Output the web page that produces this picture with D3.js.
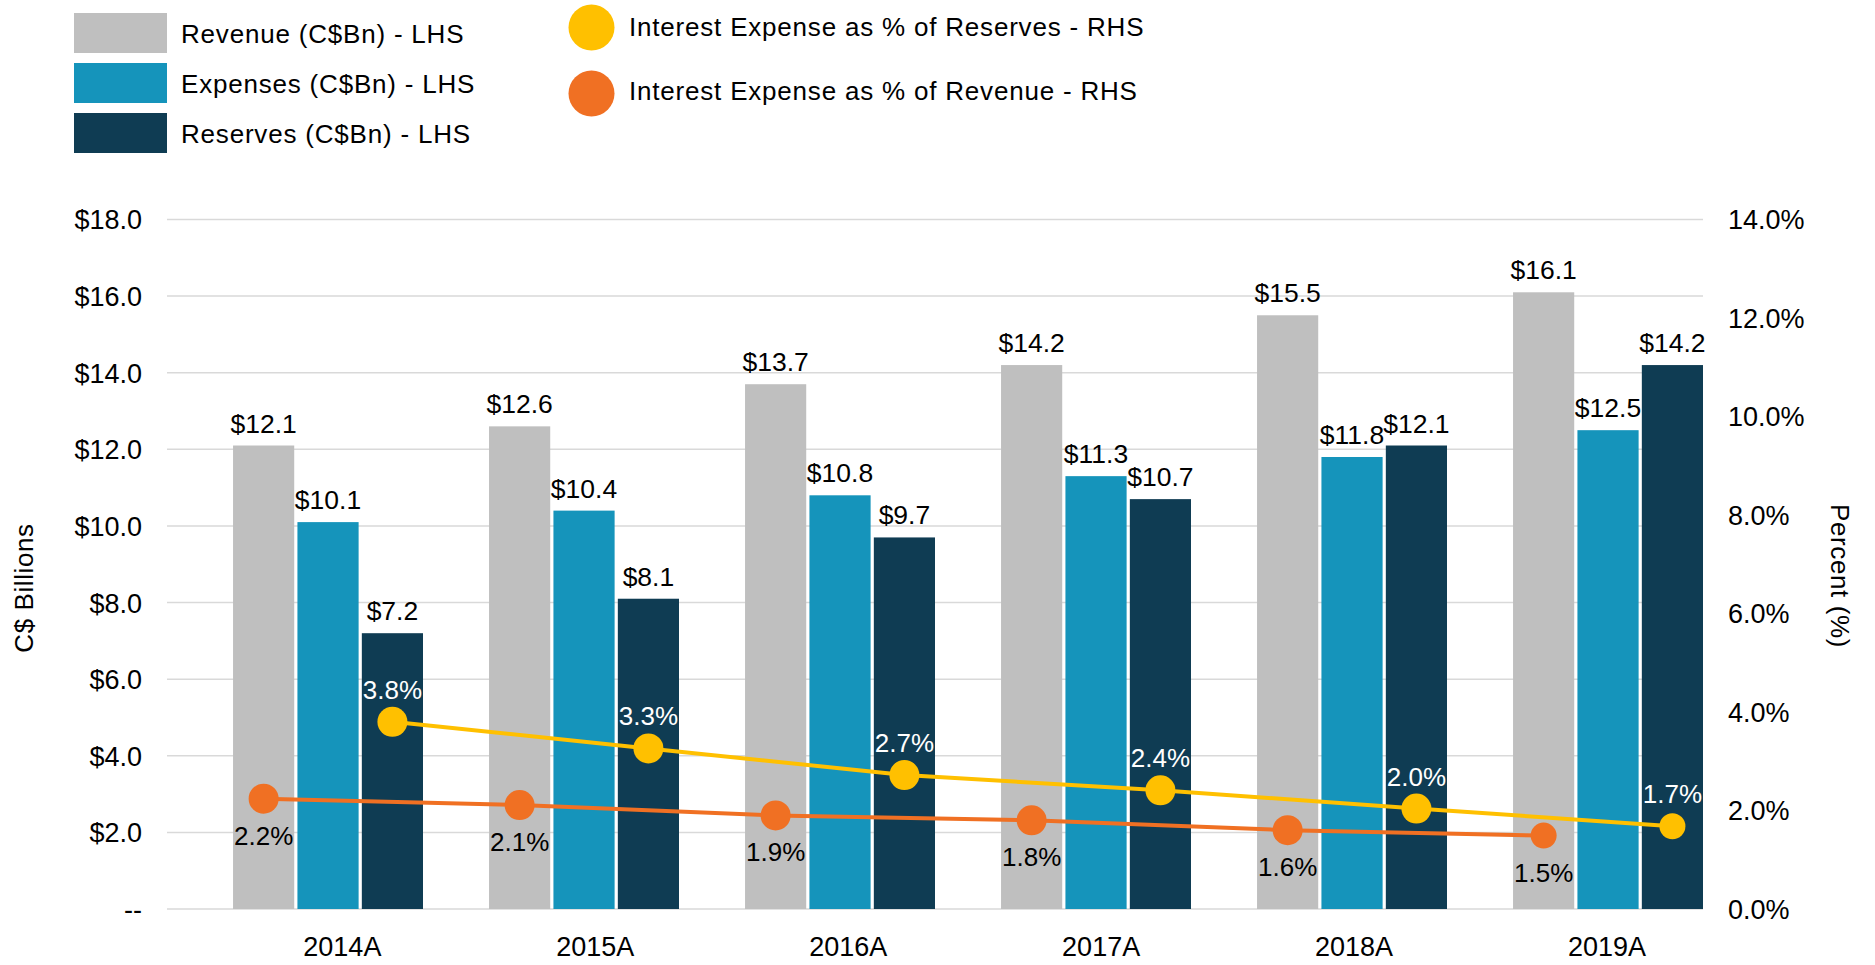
<!DOCTYPE html>
<html>
<head>
<meta charset="utf-8">
<script src="https://cdn.jsdelivr.net/npm/d3@7"></script>
<style>
  body { margin: 0; background: #fff; }
  text { font-family: "Liberation Sans", Arial, sans-serif; fill: #000; }
</style>
</head>
<body>
<div id="my_dataviz"></div>
<script>
// data
const years = ["2014A", "2015A", "2016A", "2017A", "2018A", "2019A"];
const revenue = [12.1, 12.6, 13.7, 14.2, 15.5, 16.1];
const expenses = [10.1, 10.4, 10.8, 11.3, 11.8, 12.5];
const reserves = [7.2, 8.1, 9.7, 10.7, 12.1, 14.2];
const pctReserves = [3.80, 3.26, 2.72, 2.41, 2.04, 1.68];
const pctRevenue = [2.24, 2.11, 1.90, 1.80, 1.60, 1.49];
const leftTicks = [0, 2, 4, 6, 8, 10, 12, 14, 16, 18];
const rightTicks = [0, 2, 4, 6, 8, 10, 12, 14];

const barSeries = [
  {key: "rev", name: "Revenue (C$Bn) - LHS", values: revenue, color: "#bfbfbf"},
  {key: "exp", name: "Expenses (C$Bn) - LHS", values: expenses, color: "#1594bb"},
  {key: "res", name: "Reserves (C$Bn) - LHS", values: reserves, color: "#0f3c53"}
];
const lineSeries = [
  {name: "Interest Expense as % of Reserves - RHS", values: pctReserves, color: "#ffc000", bar: "res", label: "#fff", dy: -23},
  {name: "Interest Expense as % of Revenue - RHS", values: pctRevenue, color: "#f07023", bar: "rev", label: "#000", dy: 46}
];

// dimensions
const W = 1875, H = 965;
const margin = {top: 219.5, right: 172, bottom: 56, left: 167};
const width = W - margin.left - margin.right,
  height = H - margin.top - margin.bottom;

const svg = d3.select("#my_dataviz")
.append("svg")
  .attr("width", W)
  .attr("height", H);

const g = svg.append("g")
  .attr("transform", `translate(${margin.left},${margin.top})`);

// scales
const x = d3.scaleBand()
  .domain(years)
  .range([0, width])
  .padding(0);
const bw = x.bandwidth();
const xs = d3.scaleBand()
  .domain(barSeries.map(d => d.key))
  .range([bw * 0.258, bw])
  .paddingInner(0.05);
const y = d3.scaleLinear().domain([0, 18]).range([height, 0]);
const y2 = d3.scaleLinear().domain([0, 14]).range([height, 0]);

// gridlines
g.append("g")
  .selectAll("line")
  .data(leftTicks)
  .join("line")
    .attr("x1", 0)
    .attr("x2", width)
    .attr("y1", d => y(d))
    .attr("y2", d => y(d))
    .attr("stroke", "#d9d9d9")
    .attr("stroke-width", 1.5);

// left axis
const leftAxis = g.append("g")
  .attr("transform", "translate(-25,0)")
  .call(d3.axisLeft(y).tickValues(leftTicks).tickSize(0)
    .tickFormat(d => d === 0 ? "--" : "$" + d.toFixed(1)));
leftAxis.select(".domain").remove();
leftAxis.selectAll("text")
  .attr("x", 0)
  .attr("dy", "0.35em")
  .style("font-size", "27px")
  .style("font-family", "Liberation Sans, Arial, sans-serif")
  .attr("fill", "#000");

// right axis
const rightAxis = g.append("g")
  .attr("transform", `translate(${width + 25},0)`)
  .call(d3.axisRight(y2).tickValues(rightTicks).tickSize(0)
    .tickFormat(d => d.toFixed(1) + "%"));
rightAxis.select(".domain").remove();
rightAxis.selectAll("text")
  .attr("x", 0)
  .attr("dy", "0.35em")
  .style("font-size", "27px")
  .style("font-family", "Liberation Sans, Arial, sans-serif")
  .attr("fill", "#000");

// x labels, drawn a bit right of the band centre like the original
const xl = d3.scalePoint()
  .domain(years)
  .range([bw * 0.685, width - bw * 0.375]);
g.append("g")
  .selectAll("text")
  .data(years)
  .join("text")
    .attr("x", d => xl(d))
    .attr("y", height + 47)
    .attr("text-anchor", "middle")
    .style("font-size", "27px")
    .text(d => d);

// bars
barSeries.forEach(s => {
  const bars = g.append("g");
  bars.selectAll("rect")
    .data(years)
    .join("rect")
      .attr("x", d => x(d) + xs(s.key))
      .attr("y", (d, i) => y(s.values[i]))
      .attr("width", xs.bandwidth())
      .attr("height", (d, i) => height - y(s.values[i]))
      .attr("fill", s.color);
  bars.selectAll("text")
    .data(years)
    .join("text")
      .attr("x", d => x(d) + xs(s.key) + xs.bandwidth() / 2)
      .attr("y", (d, i) => y(s.values[i]) - 13)
      .attr("text-anchor", "middle")
      .style("font-size", "26.5px")
      .text((d, i) => "$" + s.values[i].toFixed(1));
});

// lines with markers
lineSeries.forEach(s => {
  const px = d => x(d) + xs(s.bar) + xs.bandwidth() / 2;
  const line = d3.line()
    .x(d => px(d))
    .y((d, i) => y2(s.values[i]));
  g.append("path")
    .datum(years)
    .attr("d", line)
    .attr("fill", "none")
    .attr("stroke", s.color)
    .attr("stroke-width", 4);
  g.append("g")
    .selectAll("circle")
    .data(years)
    .join("circle")
      .attr("cx", d => px(d))
      .attr("cy", (d, i) => y2(s.values[i]))
      .attr("r", (d, i) => i === years.length - 1 ? 13 : 15)
      .attr("fill", s.color);
  g.append("g")
    .selectAll("text")
    .data(years)
    .join("text")
      .attr("x", d => px(d))
      .attr("y", (d, i) => y2(s.values[i]) + s.dy)
      .attr("text-anchor", "middle")
      .style("font-size", "26px")
      .style("fill", s.label)
      .text((d, i) => s.values[i].toFixed(1) + "%");
});

// axis titles
svg.append("text")
  .attr("transform", "translate(33,588) rotate(-90)")
  .attr("text-anchor", "middle")
  .style("font-size", "26px")
  .style("letter-spacing", "0.6px")
  .text("C$ Billions");
svg.append("text")
  .attr("transform", "translate(1831,576) rotate(90)")
  .attr("text-anchor", "middle")
  .style("font-size", "26px")
  .style("letter-spacing", "0.6px")
  .text("Percent (%)");

// legend: bar swatches
const legBars = svg.append("g");
legBars.selectAll("rect")
  .data(barSeries)
  .join("rect")
    .attr("x", 74)
    .attr("y", (d, i) => 13 + i * 50)
    .attr("width", 93)
    .attr("height", 40)
    .attr("fill", d => d.color);
legBars.selectAll("text")
  .data(barSeries)
  .join("text")
    .attr("x", 181)
    .attr("y", (d, i) => 43 + i * 50)
    .style("font-size", "26px")
    .style("letter-spacing", "0.8px")
    .text(d => d.name);

// legend: line circles
const legLines = svg.append("g");
legLines.selectAll("circle")
  .data(lineSeries)
  .join("circle")
    .attr("cx", 591.5)
    .attr("cy", (d, i) => 27.5 + i * 66)
    .attr("r", 23)
    .attr("fill", d => d.color);
legLines.selectAll("text")
  .data(lineSeries)
  .join("text")
    .attr("x", 629)
    .attr("y", (d, i) => 36 + i * 64)
    .style("font-size", "26px")
    .style("letter-spacing", "0.8px")
    .text(d => d.name);
</script>
</body>
</html>
